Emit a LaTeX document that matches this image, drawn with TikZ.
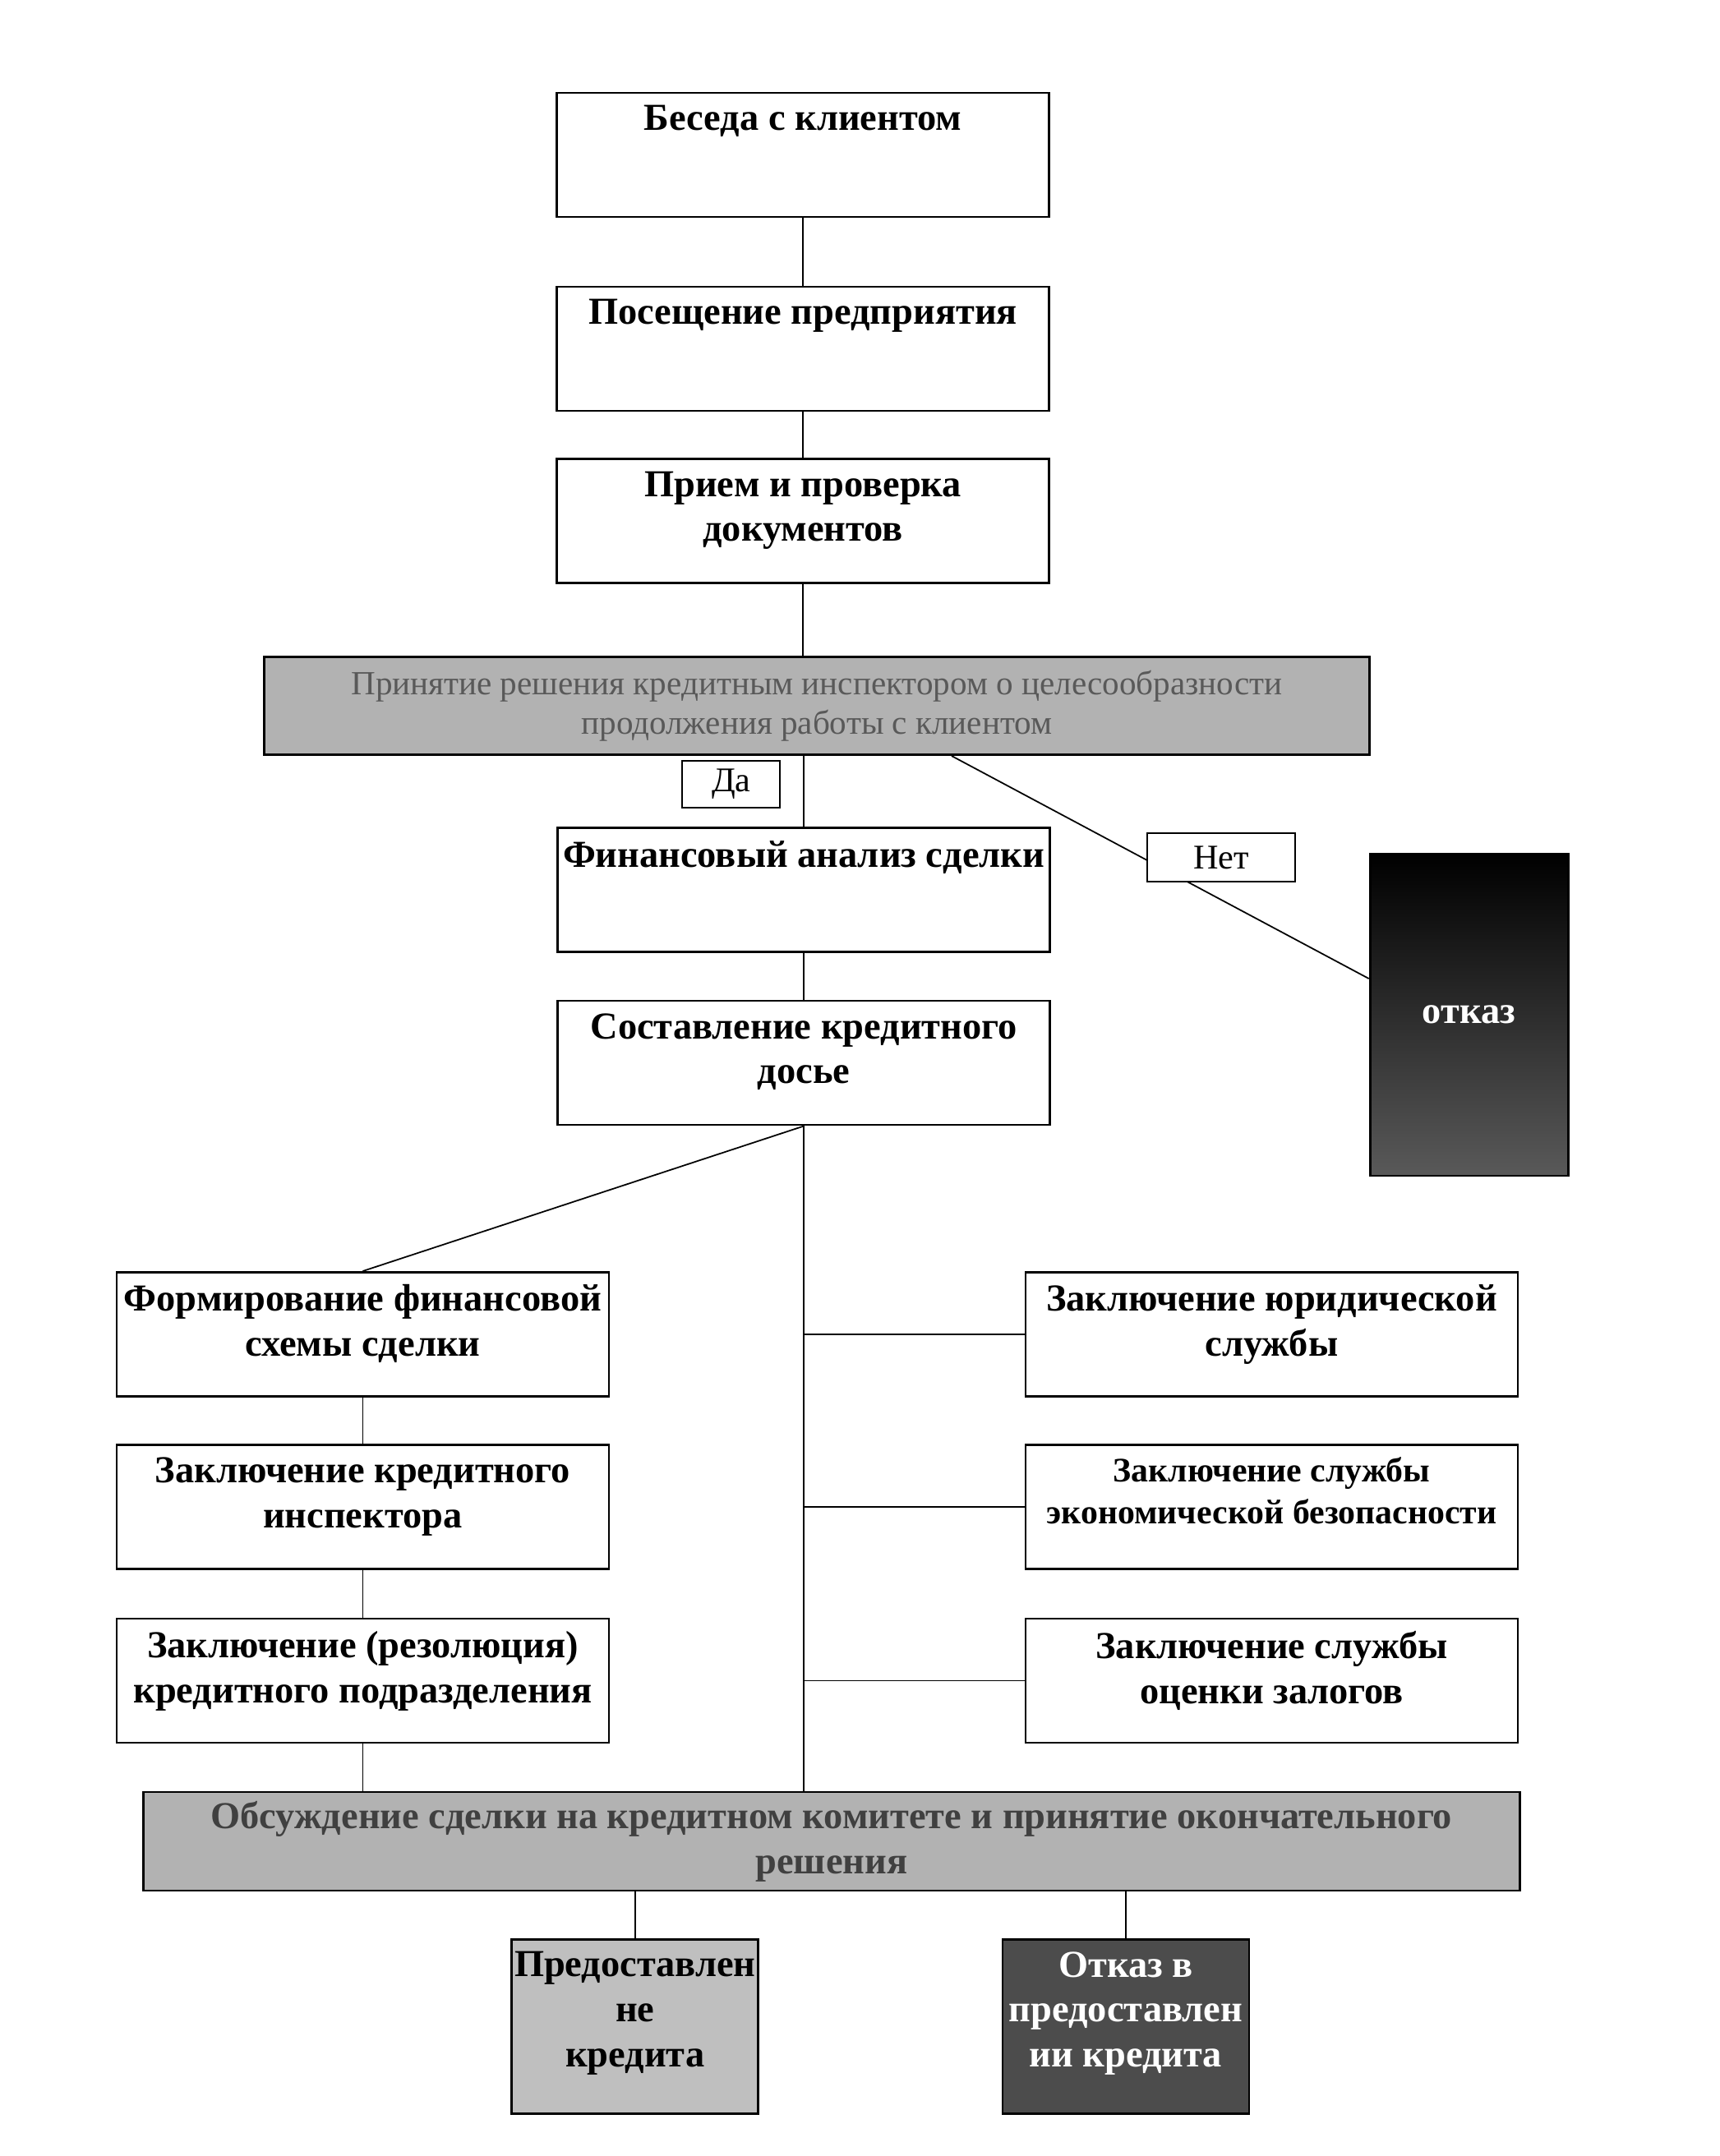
\documentclass[tikz,border=0pt]{standalone}
\usepackage{fontspec}
\setmainfont{Liberation Serif}
\begin{document}
\begin{tikzpicture}[x=0.992mm,y=-0.992mm,
    box/.style={draw, line width=0.8pt, minimum width=59.9mm, minimum height=15.1mm, inner sep=0pt},
    boxtext/.style={anchor=north, yshift=-1.6mm, inner sep=0pt, align=center, font=\bfseries\fontsize{13.2}{15.6}\selectfont},
    toptext/.style={label={[boxtext]north:#1}},
    wide/.style={draw, line width=0.8pt, fill=black!30, inner sep=0pt, align=center},
    tag/.style={draw, line width=0.6pt, fill=white, inner sep=0pt, font=\fontsize{12}{14}\selectfont},
    result/.style={draw, line width=0.8pt, minimum width=30mm, minimum height=21.2mm, inner sep=0pt},
    link/.style={line width=0.5pt}]

    \useasboundingbox (0mm,0mm) rectangle (209.2mm,-262.4mm);

    % main column
    \node[box, toptext={Беседа с клиентом}] (talk) at (98.5,19) {};
    \node[box, toptext={Посещение предприятия}] (visit) at (98.5,42.8) {};
    \node[box, toptext={Прием и проверка\\документов}] (docs) at (98.5,63.9) {};
    \node[wide, minimum width=134.5mm, minimum height=11.9mm, text=black!65,
        font=\fontsize{11.7}{13.8}\selectfont] (decide) at (100.2,86.6)
        {Принятие решения кредитным инспектором о целесообразности\\продолжения работы с клиентом};
    \node[box, toptext={Финансовый анализ сделки}] (fin) at (98.6,109.2) {};
    \node[box, toptext={Составление кредитного\\досье}] (dossier) at (98.6,130.4) {};
    \node[draw, line width=0.8pt, top color=black, bottom color=black!65, minimum width=24.1mm,
        minimum height=39.2mm, text=white, font=\bfseries\fontsize{13.2}{16}\selectfont] (refuse) at (180.2,124.5) {отказ};

    \draw[link] (talk) -- (visit);
    \draw[link] (visit) -- (docs);
    \draw[link] (docs.south) -- (docs.south |- decide.north);
    \draw[link] (fin.north |- decide.south) -- (fin.north);
    \draw[link] (fin) -- (dossier);
    \draw[link] ([xshift=16.4mm]decide.south) -- ([yshift=4.4mm]refuse.west);
    \node[tag, minimum width=11.9mm, minimum height=5.65mm] (yes) at (89.7,96.2) {Да};
    \node[tag, minimum width=18.05mm, minimum height=5.85mm] (no) at (149.8,105.2) {Нет};

    % left column
    \node[box, toptext={Формирование финансовой\\схемы сделки}] (scheme) at (44.5,163.7) {};
    \node[box, toptext={Заключение кредитного\\инспектора}] (inspector) at (44.5,184.9) {};
    \node[box, toptext={Заключение (резолюция)\\кредитного подразделения}] (division) at (44.5,206.2) {};

    % right column
    \node[box, toptext={Заключение юридической\\службы}] (legal) at (156,163.7) {};
    \node[box, label={[boxtext, font=\bfseries\fontsize{11.9}{14.3}\selectfont]north:Заключение службы\\экономической безопасности}] (security) at (156,184.9) {};
    \node[box, toptext={Заключение службы\\оценки залогов}] (pledge) at (156,206.2) {};

    % committee
    \node[wide, minimum width=167.5mm, minimum height=12mm, text=black!75,
        font=\bfseries\fontsize{13.2}{15.6}\selectfont] (discuss) at (102,225.9)
        {Обсуждение сделки на кредитном комитете и принятие окончательного\\решения};
    \node[result, fill=black!25, toptext={Предоставлен\\не\\кредита}] (grant) at (77.9,248.6) {};
    \node[result, fill=black!70, label={[boxtext, text=white]north:Отказ в\\предоставлен\\ии кредита}] (deny) at (138.1,248.6) {};

    \draw[link] (dossier.south) -- (scheme.north);
    \draw[link] (dossier.south) -- (dossier.south |- discuss.north);
    \foreach \n in {legal,security,pledge}
        \draw[link] (\n.west) -- (\n.west -| dossier.south);
    \draw[link] (scheme) -- (inspector);
    \draw[link] (inspector) -- (division);
    \draw[link] (division.south) -- (division.south |- discuss.north);
    \draw[link] (grant.north) -- (grant.north |- discuss.south);
    \draw[link] (deny.north) -- (deny.north |- discuss.south);
\end{tikzpicture}
\end{document}
